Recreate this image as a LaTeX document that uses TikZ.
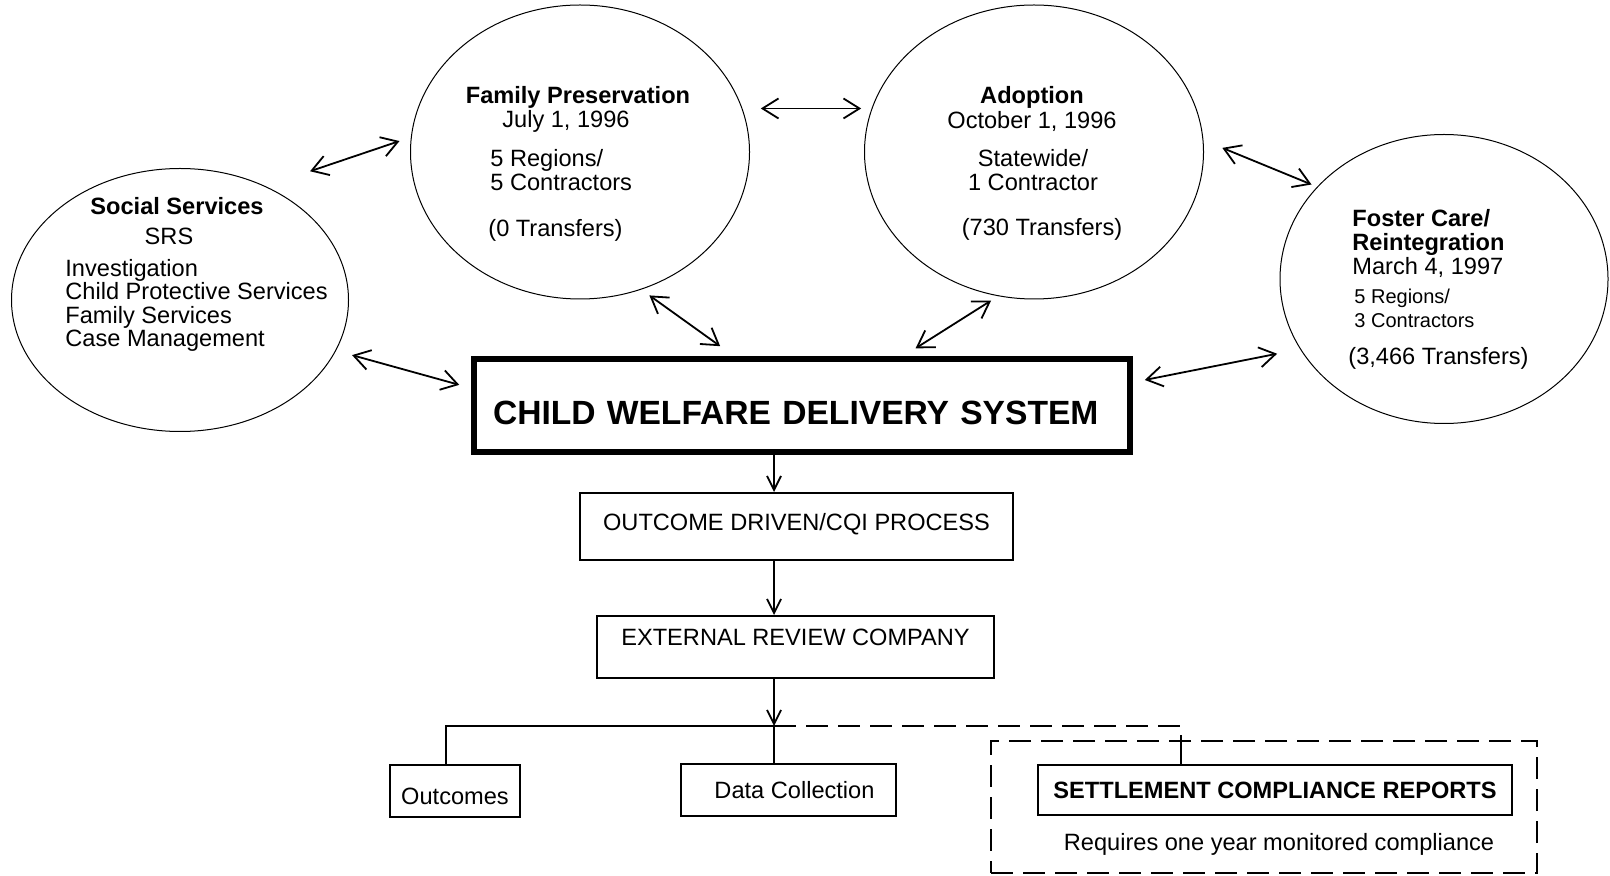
\documentclass[tikz,border=0pt]{standalone}
\usepackage{fontspec}
\setmainfont{Liberation Sans}
\usetikzlibrary{shapes.geometric,arrows.meta,calc}

\newcommand{\ovaltext}{\fontsize{11.8}{11.8}\selectfont}
\newcommand{\smalltext}{\fontsize{10}{11.8}\selectfont}
\newcommand{\bigtext}{\fontsize{16.8}{18}\selectfont\bfseries}

\tikzset{
	oval/.style={draw,ellipse,line width=0.5pt,inner sep=0pt},
	lbl/.style={inner sep=0pt,font=\ovaltext},
	flowbox/.style={draw,rectangle,line width=1pt,inner sep=0pt,font=\ovaltext},
	dbl/.style={{Straight Barb[length=8pt,width=10pt]}-{Straight Barb[length=8pt,width=10pt]},line width=0.9pt},
	flow/.style={-{Straight Barb[length=7pt,width=7pt]},line width=0.9pt},
	dashline/.style={line width=1pt,dash pattern=on 11pt off 5pt}
}

\begin{document}
\begin{tikzpicture}[x=0.5pt,y=-0.5pt]
	\useasboundingbox (0,0) rectangle (1610,876);
	\node[oval,minimum width=168.5pt,minimum height=131.5pt] (ss) at (180,300) {};
	\node[oval,minimum width=169.5pt,minimum height=147pt] (fp) at (580,152) {};
	\node[oval,minimum width=169.5pt,minimum height=147pt] (adop) at (1034,152) {};
	\node[oval,minimum width=164pt,minimum height=144.5pt] (fc) at (1444,279) {};

	\node[lbl,font=\ovaltext\bfseries] (ss-title) at (177,206) {Social Services};
	\node[lbl] (ss-code) at (169,236) {SRS};
	\node[lbl,anchor=west,align=left] (ss-list) at (65,305.5) {Investigation\\Child Protective Services\\Family Services\\Case Management};

	\node[lbl,font=\ovaltext\bfseries] (fp-title) at (578,97.5) {Family Preservation};
	\node[lbl] (fp-date) at (566,121) {July 1, 1996};
	\node[lbl,anchor=west,align=left] (fp-regions) at (490,170) {5 Regions/\\5 Contractors};
	\node[lbl,anchor=west] (fp-moves) at (488,230) {(0 Transfers)};

	\node[lbl,font=\ovaltext\bfseries] (adop-title) at (1032,97.5) {Adoption};
	\node[lbl] (adop-date) at (1032,121) {October 1, 1996};
	\node[lbl,align=center] (adop-regions) at (1033,170) {Statewide/\\1 Contractor};
	\node[lbl] (adop-moves) at (1042,229) {(730 Transfers)};

	\node[lbl,anchor=west,align=left] (fc-title) at (1352,243.4) {\textbf{Foster Care/}\\\textbf{Reintegration}\\March 4, 1997};
	\node[lbl,anchor=west,align=left,font=\smalltext] (fc-regions) at (1354,308.5) {5 Regions/\\3 Contractors};
	\node[lbl,anchor=west] (fc-moves) at (1348,358.4) {(3,466 Transfers)};

	\node[draw,line width=2.8pt,minimum width=328pt,minimum height=46.5pt,inner sep=0pt,font=\bigtext,
		text width=309pt,align=left,text height=19.3pt,text depth=0pt] (cwds) at (802,405.5) {CHILD WELFARE DELIVERY SYSTEM};
	\node[flowbox,minimum width=216.5pt,minimum height=33.5pt,text height=8.5pt,text depth=4.8pt] (cqi) at (796.5,526.5) {OUTCOME DRIVEN/CQI PROCESS};
	\node[flowbox,minimum width=198.5pt,minimum height=31pt,text height=8.5pt,text depth=10pt] (erc) at (795.5,647) {EXTERNAL REVIEW COMPANY};
	\node[flowbox,minimum width=65pt,minimum height=26pt,text height=13.8pt,text depth=0pt] (outc) at (455,791) {Outcomes};
	\node[flowbox,minimum width=107.5pt,minimum height=26pt] (datac) at (788.5,790) {\hspace{6pt}Data Collection};
	\node[draw,dashline,minimum width=273pt,minimum height=66pt,inner sep=0pt] (frame) at (1264,807) {};
	\node[flowbox,minimum width=237pt,minimum height=25pt,font=\ovaltext\bfseries] (scr) at (1275,790) {SETTLEMENT COMPLIANCE REPORTS};
	\node[lbl] (req) at (1279,844) {Requires one year monitored compliance};

	\draw[dbl,shorten <=23.4pt,shorten >=6pt] (ss.53) -- (fp.175);
	\draw[dbl,shorten <=9.2pt,shorten >=5.2pt] (fp.15) -- (adop.165);
	\draw[dbl,shorten <=10.2pt,shorten >=3pt] (adop.4) -- (fc.144);
	\draw[dbl,shorten <=8.3pt,shorten >=6.2pt] (ss.342) -- (cwds.177);
	\draw[dbl,shorten <=5pt,shorten >=8.6pt] (fp.294) -- (cwds.144);
	\draw[dbl,shorten <=4.1pt,shorten >=7.4pt] (adop.256) -- (cwds.26);
	\draw[dbl,shorten <=11.7pt,shorten >=6.1pt] (fc.206) -- (cwds.4);

	\coordinate (spine) at (774,726);
	\coordinate (corner) at (1181,726);
	\draw[flow] (cwds.south -| spine) -- (cqi.north -| spine);
	\draw[flow] (cqi.south -| spine) -- (erc.north -| spine);
	\draw[flow] (erc.south -| spine) -- (spine);
	\draw[line width=1pt] ([xshift=-4.5pt]outc.north) |- (spine) -- (datac.north -| spine);
	\draw[dashline] (spine) -- (corner) -- (corner |- frame.north);
	\draw[line width=1pt] (corner |- frame.north) -- (corner |- scr.north);
\end{tikzpicture}
\end{document}
